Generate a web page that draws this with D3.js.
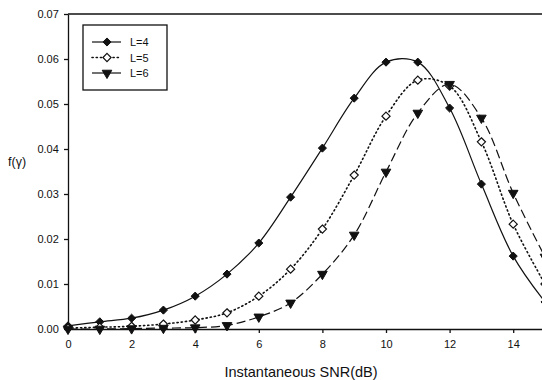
<!DOCTYPE html>
<html>
<head>
<meta charset="utf-8">
<script src="https://cdn.jsdelivr.net/npm/d3@7"></script>
<style>
  body { margin: 0; background: #fff; }
  svg { display: block; font-family: "Liberation Sans", Arial, sans-serif; }
</style>
</head>
<body>
<div id="chart"></div>
<script>
// Instantaneous SNR (dB) and pdf values
const snr = [0, 1, 2, 3, 4, 5, 6, 7, 8, 9, 10, 11, 12, 13, 14, 15];
const pdfL4 = [0.0007, 0.0016, 0.0024, 0.0042, 0.0073, 0.0122, 0.0191, 0.0293, 0.0402, 0.0513, 0.0593, 0.0593, 0.0491, 0.0322, 0.0162, 0.0060];
const pdfL5 = [0.0002, 0.0004, 0.0006, 0.0011, 0.0020, 0.0036, 0.0073, 0.0133, 0.0222, 0.0342, 0.0473, 0.0553, 0.0540, 0.0416, 0.0233, 0.0100];
const pdfL6 = [0.0000, 0.0000, 0.0001, 0.0002, 0.0003, 0.0008, 0.0027, 0.0058, 0.0122, 0.0209, 0.0349, 0.0480, 0.0544, 0.0469, 0.0302, 0.0160];
const xTicks = [0, 2, 4, 6, 8, 10, 12, 14];
const yTicks = [0, 0.01, 0.02, 0.03, 0.04, 0.05, 0.06, 0.07];

const series = [
    { name: 'L=4', values: pdfL4, dash: null, marker: 'diamond', filled: true },
    { name: 'L=5', values: pdfL5, dash: '1.2,3', marker: 'diamond', filled: false },
    { name: 'L=6', values: pdfL6, dash: '9,4', marker: 'triangle', filled: true }
];

const width = 542, height = 380;
const margin = { top: 14, right: -3, bottom: 51, left: 68 };
const ink = '#111';

const svg = d3.select('#chart').append('svg')
    .attr('width', width)
    .attr('height', height);

const x = d3.scaleLinear().domain([0, 15]).range([margin.left, width - margin.right]);
const y = d3.scaleLinear().domain([0, 0.07]).range([height - margin.bottom, margin.top]);

// clip the plotting area to the visible window
svg.append('clipPath').attr('id', 'clip')
    .append('rect')
    .attr('x', margin.left - 10).attr('y', 0)
    .attr('width', width).attr('height', height - margin.bottom + 8);

// axes
const xAxis = svg.append('g')
    .attr('transform', `translate(0,${y(0)})`)
    .call(d3.axisBottom(x).tickValues(xTicks).tickSize(4).tickSizeOuter(0).tickFormat(d3.format('d')));
const yAxis = svg.append('g')
    .attr('transform', `translate(${x(0)},0)`)
    .call(d3.axisLeft(y).tickValues(yTicks).tickSize(4).tickSizeOuter(0).tickFormat(d3.format('.2f')));

[xAxis, yAxis].forEach(ax => {
    ax.selectAll('path, line').attr('stroke', ink).attr('stroke-width', 1.3);
    ax.selectAll('text').attr('fill', ink).attr('font-size', '11px');
});
xAxis.selectAll('text').attr('dy', '1.1em');
yAxis.selectAll('text').attr('dx', '-0.2em');

// top frame line
svg.append('line')
    .attr('x1', x(0)).attr('x2', width)
    .attr('y1', y(0.07)).attr('y2', y(0.07))
    .attr('stroke', ink).attr('stroke-width', 1.3);

// axis titles
svg.append('text')
    .attr('x', 301).attr('y', 377)
    .attr('text-anchor', 'middle')
    .attr('font-size', '14.5px')
    .attr('fill', ink)
    .text('Instantaneous SNR(dB)');

svg.append('text')
    .attr('x', 8).attr('y', 166)
    .attr('font-size', '12.5px')
    .attr('fill', ink)
    .text('f(γ)');

// markers
const diamond = d3.symbol().type(d3.symbolDiamond2).size(42);
const triangle = d3.symbol().type(d3.symbolTriangle).size(40);

function drawMarker(g, s) {
    const path = g.append('path')
        .attr('d', s.marker === 'diamond' ? diamond() : triangle())
        .attr('stroke', ink)
        .attr('stroke-width', s.filled ? 1 : 1.2)
        .attr('fill', s.filled ? ink : '#fff');
    if (s.marker === 'triangle') path.attr('transform', 'rotate(180)');
    return path;
}

const line = d3.line()
    .x((d, i) => x(snr[i]))
    .y(d => y(d))
    .curve(d3.curveCatmullRom.alpha(0.5));

const plot = svg.append('g').attr('clip-path', 'url(#clip)');

series.forEach(s => {
    plot.append('path')
        .datum(s.values)
        .attr('d', line)
        .attr('fill', 'none')
        .attr('stroke', ink)
        .attr('stroke-width', s.dash === '1.2,3' ? 1.6 : 1.2)
        .attr('stroke-dasharray', s.dash)
        .attr('stroke-linecap', s.dash === '1.2,3' ? 'round' : 'butt');
});

series.forEach(s => {
    s.values.forEach((v, i) => {
        const g = plot.append('g').attr('transform', `translate(${x(snr[i])},${y(v)})`);
        drawMarker(g, s);
    });
});

// legend
const legend = svg.append('g').attr('transform', 'translate(83,25)');
legend.append('rect')
    .attr('width', 84).attr('height', 65)
    .attr('fill', '#fff')
    .attr('stroke', ink).attr('stroke-width', 1.3);

series.forEach((s, i) => {
    const row = legend.append('g').attr('transform', `translate(0,${17 + i * 15.5})`);
    row.append('line')
        .attr('x1', 9).attr('x2', 38)
        .attr('stroke', ink)
        .attr('stroke-width', s.dash === '1.2,3' ? 1.6 : 1.2)
        .attr('stroke-dasharray', s.dash === '1.2,3' ? '1.2,3' : null)
        .attr('stroke-linecap', s.dash === '1.2,3' ? 'round' : 'butt');
    drawMarker(row.append('g').attr('transform', 'translate(24,0)'), s);
    row.append('text')
        .attr('x', 47).attr('y', 4)
        .attr('font-size', '11px')
        .attr('fill', ink)
        .text(s.name);
});
</script>
</body>
</html>
